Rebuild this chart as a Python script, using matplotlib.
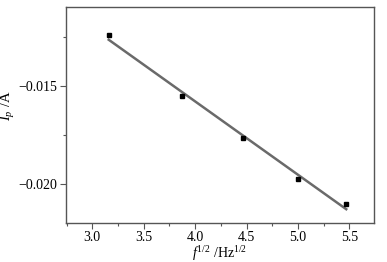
import numpy as np
import matplotlib
matplotlib.use("Agg")
import matplotlib.pyplot as plt
from matplotlib.ticker import MultipleLocator

# data
x_sqrt_f = [3.16, 3.87, 4.47, 5.00, 5.47]
ip = [-0.01239, -0.01553, -0.01765, -0.01974, -0.02102]

xticks = [3.0, 3.5, 4.0, 4.5, 5.0, 5.5]
yticks = [-0.015, -0.020]

plt.rcParams['font.family'] = ['Liberation Serif', 'DejaVu Serif']
plt.rcParams['mathtext.fontset'] = 'custom'
plt.rcParams['mathtext.rm'] = 'Liberation Serif'
plt.rcParams['mathtext.it'] = 'Liberation Serif:italic'

fig = plt.figure(figsize=(3.87, 2.62), dpi=100)
ax = fig.add_axes([0.1705, 0.149, 0.7959, 0.8225])

slope, intercept = np.polyfit(x_sqrt_f, ip, 1)
xf = np.array([min(x_sqrt_f), max(x_sqrt_f)])
ax.plot(xf, slope * xf + intercept, color='#6a6a6a', lw=1.8, zorder=2)
ax.plot(x_sqrt_f, ip, 's', color='black', ms=3.5, zorder=3)

ax.set_xlim(2.744, 5.74)
ax.set_ylim(-0.02201, -0.01098)
ax.set_xticks(xticks)
ax.set_xticklabels([f"{v:.1f}" for v in xticks])
ax.set_yticks(yticks)
ax.set_yticklabels(["\u22120.015", "\u22120.020"])
ax.xaxis.set_minor_locator(MultipleLocator(0.25))
ax.yaxis.set_minor_locator(MultipleLocator(0.0025))

for s in ax.spines.values():
    s.set_color('#555555')
    s.set_linewidth(1.0)
ax.tick_params(which='major', direction='out', length=4, width=0.8, color='#555555', labelsize=10, pad=2)
ax.tick_params(which='minor', direction='out', length=2.5, width=0.8, color='#555555')

ax.set_xlabel(r"$f^{1/2}$ /Hz$^{1/2}$", fontsize=10)
ax.xaxis.set_label_coords(0.5, -0.10)
ax.set_ylabel(r"$I_p$ /A", fontsize=10.5)
ax.yaxis.set_label_coords(-0.16, 0.545)

fig.savefig("out.png", dpi=100)
